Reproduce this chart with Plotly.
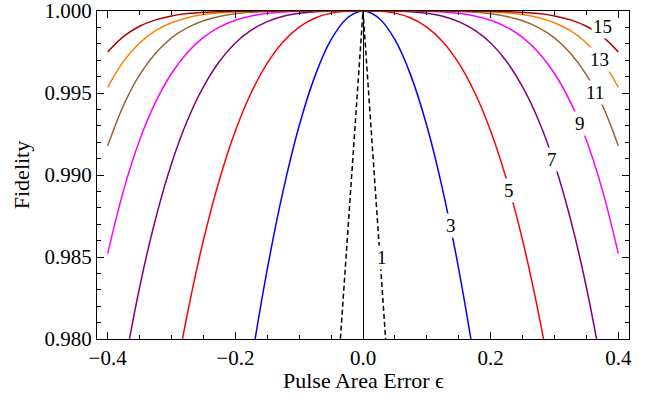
import plotly.graph_objects as go

# Pulse area error grid (shared by the N >= 3 curves), step 0.025
EPS = [-0.4, -0.375, -0.35, -0.325, -0.3, -0.275, -0.25, -0.225, -0.2, -0.175, -0.15, -0.125,
       -0.1, -0.075, -0.05, -0.025, 0.0, 0.025, 0.05, 0.075, 0.1, 0.125, 0.15, 0.175, 0.2,
       0.225, 0.25, 0.275, 0.3, 0.325, 0.35, 0.375, 0.4]

# N = 1 (single pulse, dashed)
EPS1 = [-0.05, 0.0, 0.05]
F1 = [0.97175, 1.0, 0.97175]

F3 = [0.888, 0.9016, 0.91425, 0.9261, 0.937, 0.94706, 0.95625, 0.96456, 0.972, 0.97856, 0.98425, 0.98906,
      0.993, 0.99606, 0.99825, 0.99956, 1.0, 0.99956, 0.99825, 0.99606, 0.993, 0.98906, 0.98425, 0.97856, 0.972,
      0.96456, 0.95625, 0.94706, 0.937, 0.9261, 0.91425, 0.9016, 0.888]
F5 = [0.94536, 0.95468, 0.9629, 0.97007, 0.97627, 0.98156, 0.98602, 0.9897, 0.99268, 0.99503, 0.99682, 0.99813,
      0.99902, 0.99957, 0.99987, 0.99998, 1.0, 0.99998, 0.99987, 0.99957, 0.99902, 0.99813, 0.99682, 0.99503, 0.99268,
      0.9897, 0.98602, 0.98156, 0.97627, 0.97007, 0.9629, 0.95468, 0.94536]
F7 = [0.97181, 0.978, 0.98314, 0.98732, 0.99069, 0.99334, 0.99538, 0.99692, 0.99805, 0.99883, 0.99935, 0.99968,
      0.99986, 0.99996, 0.99999, 1.0, 1.0, 1.0, 0.99999, 0.99996, 0.99986, 0.99968, 0.99935, 0.99883, 0.99805,
      0.99692, 0.99538, 0.99334, 0.99069, 0.98732, 0.98314, 0.978, 0.97181]
F9 = [0.98521, 0.98908, 0.99212, 0.99444, 0.99619, 0.99747, 0.99839, 0.99902, 0.99944, 0.9997, 0.99986, 0.99994,
      0.99998, 0.99999, 1.0, 1.0, 1.0, 1.0, 1.0, 0.99999, 0.99998, 0.99994, 0.99986, 0.9997, 0.99944,
      0.99902, 0.99839, 0.99747, 0.99619, 0.99444, 0.99212, 0.98908, 0.98521]
F11 = [0.99177, 0.99426, 0.9961, 0.99742, 0.99836, 0.99899, 0.99941, 0.99967, 0.99983, 0.99992, 0.99997, 0.99999,
       1.0, 1.0, 1.0, 1.0, 1.0, 1.0, 1.0, 1.0, 1.0, 0.99999, 0.99997, 0.99992, 0.99983,
       0.99967, 0.99941, 0.99899, 0.99836, 0.99742, 0.9961, 0.99426, 0.99177]
F13 = [0.99535, 0.99694, 0.99805, 0.9988, 0.99928, 0.99959, 0.99978, 0.99989, 0.99995, 0.99998, 1.0, 1.0,
       1.0, 1.0, 1.0, 1.0, 1.0, 1.0, 1.0, 1.0, 1.0, 1.0, 1.0, 0.99998, 0.99995,
       0.99989, 0.99978, 0.99959, 0.99928, 0.9988, 0.99805, 0.99694, 0.99535]
F15 = [0.9975, 0.99845, 0.99907, 0.99946, 0.9997, 0.99984, 0.99992, 0.99996, 0.99999, 0.99999, 1.0, 1.0,
       1.0, 1.0, 1.0, 1.0, 1.0, 1.0, 1.0, 1.0, 1.0, 1.0, 1.0, 0.99999, 0.99999,
       0.99996, 0.99992, 0.99984, 0.9997, 0.99946, 0.99907, 0.99845, 0.9975]

SERIES_N = [3, 5, 7, 9, 11, 13, 15]
SERIES_F = [F3, F5, F7, F9, F11, F13, F15]
COLORS = ["rgb(0,0,255)", "rgb(255,0,0)", "rgb(128,0,128)", "rgb(255,0,255)",
          "rgb(153,102,51)", "rgb(255,128,0)", "rgb(170,0,0)"]

# Curve labels
LABEL_TEXT = ["1", "3", "5", "7", "9", "11", "13", "15"]
LABEL_EPS = [0.0293, 0.1378, 0.2291, 0.2959, 0.3397, 0.3632, 0.3706, 0.3748]
LABEL_F = [0.9850, 0.98693, 0.98907, 0.99094, 0.99313, 0.99506, 0.99704, 0.99907]

X_TICKS = [-0.4, -0.2, 0.0, 0.2, 0.4]
Y_TICKS = [0.980, 0.985, 0.990, 0.995, 1.000]

FONT = "Liberation Serif, Times New Roman, serif"

fig = go.Figure()

fig.add_trace(go.Scatter(x=EPS1, y=F1, mode="lines",
                         line=dict(color="black", width=1.5, dash="5px,3px"),
                         showlegend=False, hoverinfo="skip"))

for n, f, c in zip(SERIES_N, SERIES_F, COLORS):
    fig.add_trace(go.Scatter(x=EPS, y=f, mode="lines", name=str(n),
                             line=dict(color=c, width=1.5, shape="spline"),
                             showlegend=False, hoverinfo="skip"))

for t, ex, fy in zip(LABEL_TEXT, LABEL_EPS, LABEL_F):
    fig.add_annotation(x=ex, y=fy, text=t, showarrow=False,
                       xanchor="center", yanchor="middle",
                       font=dict(family=FONT, size=19, color="black"),
                       bgcolor="white", borderpad=1)

# x-axis title placed just below the tick labels
fig.add_annotation(x=0.5, y=-0.128, xref="paper", yref="paper", text="Pulse Area Error \u03f5",
                   showarrow=False, xanchor="center", yanchor="middle",
                   font=dict(family=FONT, size=22, color="black"))

fig.update_xaxes(range=[-0.4167, 0.4167], tickvals=X_TICKS, automargin=False,
                 ticktext=[("\u2212" if v < 0 else "") + f"{abs(v):.1f}" for v in X_TICKS],
                 ticklabeloverflow="allow",
                 ticks="inside", ticklen=7, tickwidth=1, tickcolor="black",
                 minor=dict(dtick=0.05, ticks="inside", ticklen=4, tickwidth=1, tickcolor="black", showgrid=False),
                 showline=True, linecolor="black", linewidth=1, mirror="allticks",
                 showgrid=False, zeroline=True, zerolinecolor="black", zerolinewidth=1,
                 tickfont=dict(family=FONT, size=21, color="black"))

fig.update_yaxes(range=[0.98, 1.0], tickvals=Y_TICKS, automargin=False,
                 ticktext=[f"{v:.3f}" for v in Y_TICKS],
                 ticklabeloverflow="allow",
                 ticks="inside", ticklen=7, tickwidth=1, tickcolor="black",
                 minor=dict(dtick=0.001, tick0=0.98, ticks="inside", ticklen=4, tickwidth=1, tickcolor="black", showgrid=False),
                 showline=True, linecolor="black", linewidth=1, mirror="allticks",
                 showgrid=False, zeroline=False,
                 title=dict(text="Fidelity", font=dict(family=FONT, size=22, color="black"), standoff=8),
                 tickfont=dict(family=FONT, size=21, color="black"))

fig.update_layout(width=650, height=405, margin=dict(l=97, r=21, t=11, b=66),
                  plot_bgcolor="white", paper_bgcolor="white",
                  font=dict(family=FONT, color="black"))

fig.write_html("out.html", config={"displayModeBar": False},
               post_script="document.body.style.margin='0px';")
